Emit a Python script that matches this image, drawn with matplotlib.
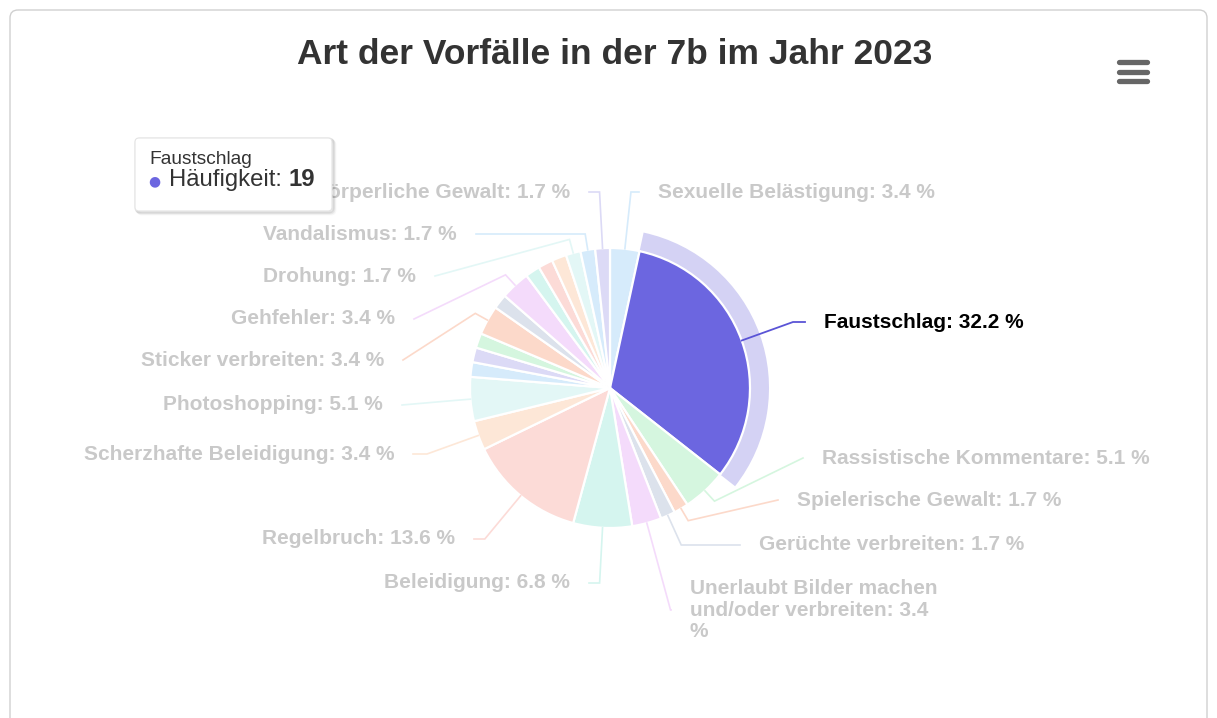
import math
import textwrap
import matplotlib
matplotlib.use("Agg")
import matplotlib.pyplot as plt
from matplotlib.patches import FancyBboxPatch, Wedge

plt.rcParams['font.family'] = ['Liberation Sans', 'DejaVu Sans']

# ---------------- data ----------------
title = "Art der Vorfälle in der 7b im Jahr 2023"
categories = ["Sexuelle Belästigung", "Faustschlag", "Rassistische Kommentare",
              "Spielerische Gewalt", "Gerüchte verbreiten",
              "Unerlaubt Bilder machen und/oder verbreiten", "Beleidigung",
              "Regelbruch", "Scherzhafte Beleidigung", "Photoshopping",
              None, None, None, "Sticker verbreiten", None, "Gehfehler",
              None, None, None, "Drohung", "Vandalismus", "Körperliche Gewalt"]
counts = [2, 19, 3, 1, 1, 2, 4, 8, 2, 3, 1, 1, 1, 2, 1, 2, 1, 1, 1, 1, 1, 1]
series_name = "Häufigkeit"
hovered = 1  # Faustschlag

# faded (inactive) palette + active colour of the hovered slice
palette_faded = ['#d6ebfb', '#dcdaf6', '#d5f6df', '#fcd9ca', '#dce2ec',
                 '#f4dbfb', '#d5f5ef', '#fcdbd7', '#fde7d7', '#e3f7f6']
active_color = '#6c66e0'
halo_color = '#d4d2f4'

# ---------------- layout ----------------
W, H = 1217, 718
cx, cy, r = 610, 388, 140
# label text anchor positions (pixel x, pixel y, alignment of text)
label_layout = {0: (658, 192, 'left'), 1: (824, 322, 'left'), 2: (822, 458, 'left'),
                3: (797, 500, 'left'), 4: (759, 545, 'left'), 5: (690, 610, 'left'),
                6: (570, 583, 'right'), 7: (455, 539, 'right'), 8: (394, 454, 'right'),
                9: (383, 405, 'right'), 13: (384, 360, 'right'), 15: (395, 319, 'right'),
                19: (416, 276, 'right'), 20: (457, 234, 'right'), 21: (570, 192, 'right')}

fig = plt.figure(figsize=(W / 100, H / 100), dpi=100)
ax = fig.add_axes([0, 0, 1, 1])

colors = [active_color if i == hovered else palette_faded[i % len(palette_faded)]
          for i in range(len(counts))]

# halo behind hovered slice
total = sum(counts)
cum = [sum(counts[:i]) for i in range(len(counts))]
phi1 = cum[hovered] / total * 360
phi2 = (cum[hovered] + counts[hovered]) / total * 360
ax.add_patch(Wedge((cx, cy), r + 19, phi1 - 90, phi2 - 90, width=19,
                   facecolor=halo_color, edgecolor='none', zorder=1))

wedges, _ = ax.pie(counts, colors=colors, startangle=-90, counterclock=True,
                   center=(cx, cy), radius=r,
                   wedgeprops=dict(edgecolor='white', linewidth=1.6, zorder=2))

ax.set_xlim(0, W)
ax.set_ylim(H, 0)
ax.set_aspect('auto')
ax.axis('off')

# ---------------- labels + connectors ----------------
label_grey = '#c9c9c9'
for i, name in enumerate(categories):
    if name is None or i not in label_layout:
        continue
    lx, ly, align = label_layout[i]
    pct = counts[i] / total * 100
    txt = f"{name}: {pct:.1f} %"
    if len(txt) > 35:
        txt = textwrap.fill(txt, 24)
    is_active = (i == hovered)
    ax.text(lx, ly, txt, ha=align, va='center', fontsize=15, fontweight='bold',
            color='#000000' if is_active else label_grey, linespacing=1.14, zorder=5)

    phi = (cum[i] + counts[i] / 2) / total * 360
    s, c = math.sin(math.radians(phi)), math.cos(math.radians(phi))
    touch = (cx + r * s, cy - r * c)
    brk = (cx + (r + 14) * s, cy - (r + 14) * c)
    ax_x = lx - 19 if align == 'left' else lx + 19
    ang = math.radians(phi - 90)
    t = math.tan(ang - math.pi / 2)
    crook = cx + (cy - ly) * t
    pts = [(ax_x, ly)]
    if align == 'left':
        ok = brk[0] <= crook <= ax_x
    else:
        ok = ax_x <= crook <= brk[0]
    if ok:
        pts.append((crook, ly))
    pts += [brk, touch]
    lc = '#5a54d6' if is_active else palette_faded[i % len(palette_faded)]
    ax.plot([p[0] for p in pts], [p[1] for p in pts], color=lc,
            lw=1.3 if is_active else 1.2, zorder=3, solid_joinstyle='miter')

# ---------------- title ----------------
ax.text(615, 54, title, ha='center', va='center', fontsize=25.5,
        fontweight='bold', color='#333333', zorder=6)

# chart border
ax.add_patch(FancyBboxPatch((10, 10), 1197, 760, boxstyle='round,pad=0,rounding_size=8',
                            facecolor='none', edgecolor='#d0d0d0', lw=1.0, zorder=0))

# menu icon
for yy in (62, 71.5, 81):
    ax.plot([1119, 1147], [yy, yy], color='#666666', lw=3.8, solid_capstyle='round', zorder=6)

# ---------------- tooltip ----------------
tx0, ty0, tw, th = 135, 138, 197, 73
for k, a in ((3, 0.03), (2, 0.06), (1, 0.09)):
    ax.add_patch(FancyBboxPatch((tx0 + k, ty0 + k), tw, th,
                                boxstyle='round,pad=0,rounding_size=4',
                                facecolor='none', edgecolor=(0, 0, 0, a), lw=2, zorder=9))
ax.add_patch(FancyBboxPatch((tx0, ty0), tw, th, boxstyle='round,pad=0,rounding_size=4',
                            facecolor='white', edgecolor='#e4e4e4', lw=0.8, zorder=10))
ax.text(149, 159, categories[hovered], ha='left', va='center', fontsize=13.8,
        color='#333333', zorder=11)
ax.text(148, 181, "●", ha='left', va='center', fontsize=10, color=active_color, zorder=11,
        family=['DejaVu Sans'])
t1 = ax.text(169, 180, f"{series_name}: ", ha='left', va='center', fontsize=17.2,
             color='#333333', zorder=11)
fig.canvas.draw()
bb = t1.get_window_extent()
x_end = ax.transData.inverted().transform((bb.x1, bb.y0))[0]
ax.text(x_end, 180, f"{counts[hovered]}", ha='left', va='center', fontsize=17.2,
        fontweight='bold', color='#333333', zorder=11)

fig.savefig("out.png", dpi=100, facecolor='white')
